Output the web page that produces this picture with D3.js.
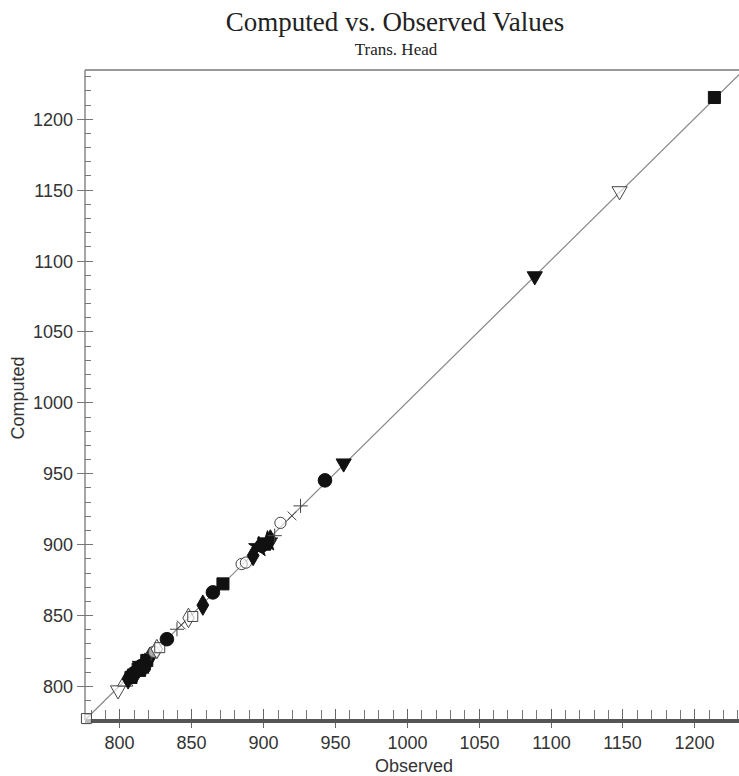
<!DOCTYPE html>
<meta charset="utf-8">
<script src="https://d3js.org/d3.v7.min.js"></script>
<style>
  body { margin: 0; background: #fff; }
  .tick-label { font-family: 'Liberation Sans', Arial, sans-serif; font-size: 18px; fill: #333; }
</style>
<body>
<svg id="chart" width="739" height="776"></svg>
</body>
<script>

// observed / computed pairs, with the marker used for each
var observed = [777, 799, 804, 806, 808, 810, 812, 813, 815, 816, 818, 819, 821, 814, 817,
                822, 824, 826, 828, 833, 840, 843, 848, 851, 858, 865, 872, 885, 888, 893,
                897, 899, 901, 903, 905, 908, 912, 920, 926, 943, 956, 1089, 1148, 1214];
var computed = [777, 797, 803, 805, 806, 809, 810, 812, 814, 815, 816, 818, 820, 811, 813,
                823, 824, 826, 827, 833, 840, 843, 848, 849, 857, 866, 872, 886, 887, 892,
                898, 899, 900, 902, 903, 906, 915, 920, 927, 945, 957, 1089, 1149, 1215];
var marker = ["osq", "odtri", "otri", "diamond", "sq", "circle", "diamond", "sq", "circle", "star",
              "diamond", "sq", "diamond", "sq", "circle",
              "plus", "ocircle", "odiamond", "osq", "circle", "plus", "x", "odiamond", "osq", "diamond",
              "circle", "sq", "ocircle", "ocircle", "diamond",
              "star", "circle", "sq", "star", "diamond", "plus", "ocircle", "x", "plus", "circle",
              "dtri", "dtri", "odtri", "sq"];

var majorTicks = [800, 850, 900, 950, 1000, 1050, 1100, 1150, 1200];
var xDomain = [776, 1235.3];
var yDomain = [776, 1234.4];

var svg = d3.select("#chart"),
    margin = {top: 70, left: 85, bottom: 56},
    width = 660,
    height = +svg.attr("height") - margin.top - margin.bottom;

var x = d3.scaleLinear().domain(xDomain).range([margin.left, margin.left + width]);
var y = d3.scaleLinear().domain(yDomain).range([margin.top + height, margin.top]);

var minorTicks = d3.range(780, 1240, 10).filter(function(v) { return v % 50 != 0; });

// title
svg.append("text")
    .attr("x", 395).attr("y", 31)
    .attr("text-anchor", "middle")
    .attr("font-family", "'Liberation Serif', 'Times New Roman', serif")
    .attr("font-size", 27)
    .attr("fill", "#222")
    .text("Computed vs. Observed Values");

svg.append("text")
    .attr("x", 396).attr("y", 55)
    .attr("text-anchor", "middle")
    .attr("font-family", "'Liberation Serif', 'Times New Roman', serif")
    .attr("font-size", 17)
    .attr("fill", "#222")
    .text("Trans. Head");

// top frame line
svg.append("line")
    .attr("x1", margin.left).attr("x2", 739)
    .attr("y1", margin.top).attr("y2", margin.top)
    .attr("stroke", "#999").attr("stroke-width", 2);

// left axis
var yb = margin.top + height;
svg.append("line")
    .attr("x1", margin.left).attr("x2", margin.left)
    .attr("y1", margin.top).attr("y2", yb)
    .attr("stroke", "#888").attr("stroke-width", 1.5);

svg.append("g").selectAll("line")
    .data(minorTicks.filter(function(v) { return v <= yDomain[1]; }))
    .enter().append("line")
    .attr("x1", margin.left).attr("x2", margin.left + 6)
    .attr("y1", function(d) { return Math.round(y(d)) + 0.5; })
    .attr("y2", function(d) { return Math.round(y(d)) + 0.5; })
    .attr("stroke", "#777");

var yMajor = svg.append("g").selectAll("g")
    .data(majorTicks)
    .enter().append("g")
    .attr("transform", function(d) { return "translate(0," + (Math.round(y(d)) + 0.5) + ")"; });
yMajor.append("line")
    .attr("x1", margin.left - 8).attr("x2", margin.left + 8)
    .attr("stroke", "#777");
yMajor.append("text")
    .attr("class", "tick-label")
    .attr("x", margin.left - 12)
    .attr("dy", "0.35em")
    .attr("text-anchor", "end")
    .text(function(d) { return d; });

// bottom axis
svg.append("g").selectAll("line")
    .data(minorTicks)
    .enter().append("line")
    .attr("x1", function(d) { return Math.round(x(d)) + 0.5; })
    .attr("x2", function(d) { return Math.round(x(d)) + 0.5; })
    .attr("y1", yb - 10).attr("y2", yb)
    .attr("stroke", "#777");

var xMajor = svg.append("g").selectAll("g")
    .data(majorTicks)
    .enter().append("g")
    .attr("transform", function(d) { return "translate(" + (Math.round(x(d)) + 0.5) + ",0)"; });
xMajor.append("line")
    .attr("y1", yb - 11).attr("y2", yb + 8)
    .attr("stroke", "#666");
xMajor.append("text")
    .attr("class", "tick-label")
    .attr("y", yb + 29)
    .attr("text-anchor", "middle")
    .text(function(d) { return d; });

svg.append("line")
    .attr("x1", margin.left).attr("x2", 739)
    .attr("y1", yb + 1).attr("y2", yb + 1)
    .attr("stroke", "#555").attr("stroke-width", 4);

// axis titles
svg.append("text")
    .attr("x", 414).attr("y", 772)
    .attr("text-anchor", "middle")
    .attr("font-family", "'Liberation Sans', Arial, sans-serif")
    .attr("font-size", 18)
    .attr("fill", "#333")
    .text("Observed");

svg.append("text")
    .attr("transform", "translate(24,398) rotate(-90)")
    .attr("text-anchor", "middle")
    .attr("font-family", "'Liberation Sans', Arial, sans-serif")
    .attr("font-size", 18)
    .attr("fill", "#333")
    .text("Computed");

// 1:1 line
svg.append("line")
    .attr("x1", x(776)).attr("y1", y(776))
    .attr("x2", x(1234.4)).attr("y2", y(1234.4))
    .attr("stroke", "#888").attr("stroke-width", 1.2);

// thin-line symbols for + and x
var plusType = {
  draw: function(context, size) {
    var r = Math.sqrt(size) / 2;
    context.moveTo(-r, 0); context.lineTo(r, 0);
    context.moveTo(0, -r); context.lineTo(0, r);
  }
};
var xType = {
  draw: function(context, size) {
    var r = Math.sqrt(size) / 2.8;
    context.moveTo(-r, -r); context.lineTo(r, r);
    context.moveTo(-r, r); context.lineTo(r, -r);
  }
};

var symbolInfo = {
  sq:       {type: d3.symbolSquare,   size: 145, fill: true},
  osq:      {type: d3.symbolSquare,   size: 100, fill: false},
  circle:   {type: d3.symbolCircle,   size: 145, fill: true},
  ocircle:  {type: d3.symbolCircle,   size: 100, fill: false},
  diamond:  {type: d3.symbolDiamond,  size: 120, fill: true},
  odiamond: {type: d3.symbolDiamond,  size: 110, fill: false},
  tri:      {type: d3.symbolTriangle, size: 100, fill: true},
  otri:     {type: d3.symbolTriangle, size: 100, fill: false},
  dtri:     {type: d3.symbolTriangle, size: 100, fill: true,  rot: 180},
  odtri:    {type: d3.symbolTriangle, size: 100, fill: false, rot: 180},
  star:     {type: d3.symbolStar,     size: 130, fill: true},
  plus:     {type: plusType,          size: 200, fill: false},
  x:        {type: xType,             size: 150, fill: false}
};

var points = observed.map(function(o, i) {
  return {obs: o, comp: computed[i], m: marker[i]};
});

svg.append("g").selectAll("path")
    .data(points)
    .enter().append("path")
    .attr("d", function(d) {
      var s = symbolInfo[d.m];
      return d3.symbol().type(s.type).size(s.size)();
    })
    .attr("transform", function(d) {
      var s = symbolInfo[d.m];
      return "translate(" + x(d.obs) + "," + y(d.comp) + ")" + (s.rot ? " rotate(" + s.rot + ")" : "");
    })
    .attr("fill", function(d) { return symbolInfo[d.m].fill ? "#111" : "#fff"; })
    .attr("fill-opacity", function(d) { return symbolInfo[d.m].fill ? 1 : 0.6; })
    .attr("stroke", function(d) { return symbolInfo[d.m].fill ? "#111" : "#444"; })
    .attr("stroke-width", 1);

</script>
